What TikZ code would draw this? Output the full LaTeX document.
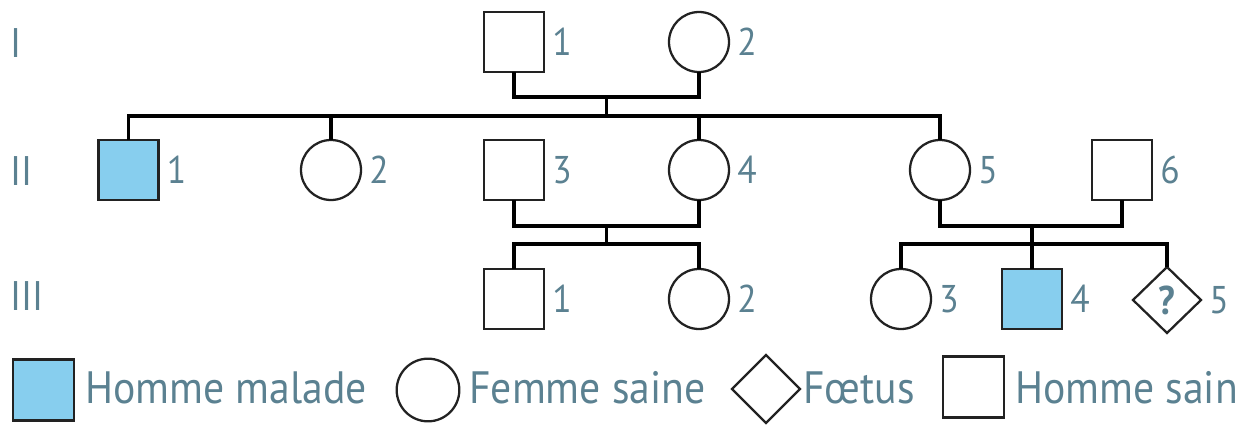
\documentclass[tikz,border=0pt]{standalone}
\usepackage{fontspec}
\setmainfont[FakeStretch=0.92]{PT Sans}
\usetikzlibrary{shapes.geometric}
\definecolor{labcol}{RGB}{91,129,145}
\definecolor{sick}{RGB}{135,206,238}
\definecolor{edge}{RGB}{34,34,34}
\tikzset{
  male/.style={draw=edge, rectangle, minimum size=45pt, inner sep=0pt, outer sep=0pt, line width=1.7pt, fill=white},
  female/.style={draw=edge, circle, minimum size=45pt, inner sep=0pt, outer sep=0pt, line width=1.7pt, fill=white},
  fetus/.style={draw=edge, diamond, minimum width=51pt, minimum height=49.5pt, inner sep=0pt, outer sep=0pt, line width=1.7pt, fill=white},
  ill/.style={fill=sick},
  ln/.style={line width=2.4pt, black},
  num/.style={text=labcol, font=\fontsize{29}{32}\selectfont, anchor=base west, inner sep=0pt},
  gen/.style={text=labcol, font=\fontsize{31}{34}\selectfont, anchor=base west, inner sep=0pt},
  leg/.style={text=labcol, font=\fontsize{34}{38}\selectfont, anchor=base west, inner sep=0pt}
}
\begin{document}
\begin{tikzpicture}[x=0.75pt, y=-0.75pt]
\useasboundingbox (0,0) rectangle (1253,425);

% generation labels
\node[gen] (gI)   at (10,57)  {I};
\node[gen] (gII)  at (10,185) {II};
\node[gen] (gIII) at (10,310) {III};

% generation I
\node[male]   (I1) at (514,42) {};
\node[female] (I2) at (699,42) {};

% generation II
\node[male, ill] (II1) at (128.5,170) {};
\node[female]    (II2) at (331,170) {};
\node[male]      (II3) at (514,170) {};
\node[female]    (II4) at (699,170) {};
\node[female]    (II5) at (940,170) {};
\node[male]      (II6) at (1122,170) {};

% generation III
\node[male]      (III1) at (514,299) {};
\node[female]    (III2) at (699,299) {};
\node[female]    (III3) at (901,299) {};
\node[male, ill] (III4) at (1032,299) {};
\node[fetus]     (III5) at (1167,300) {\textcolor{labcol}{\fontsize{30}{32}\selectfont\bfseries ?}};

% individual numbers
\foreach \n/\t in {I1/1, I2/2, II1/1, II2/2, II3/3, II4/4, II5/5, II6/6, III1/1, III2/2, III3/3, III4/4, III5/5}
  \node[num] (lab-\n) at ([xshift=6pt, yshift=-10pt]\n.east) {\t};

% family of I1 x I2
\coordinate (m1) at (606.5,97);
\coordinate (s1) at (606.5,116);
\draw[ln] (I1.south) |- (m1) -| (I2.south);
\draw[ln] (m1) -- (s1);
\draw[ln] (II1.north) |- (s1) -| (II5.north);
\draw[ln] (II2.north) -- (II2.north |- s1);
\draw[ln] (II4.north) -- (II4.north |- s1);

% family of II3 x II4
\coordinate (m2) at (606.5,226);
\coordinate (s2) at (606.5,244);
\draw[ln] (II3.south) |- (m2) -| (II4.south);
\draw[ln] (m2) -- (s2);
\draw[ln] (III1.north) |- (s2) -| (III2.north);

% family of II5 x II6
\coordinate (m3) at (1032,226);
\coordinate (s3) at (1032,244);
\draw[ln] (II5.south) |- (m3) -| (II6.south);
\draw[ln] (m3) -- (III4.north);
\draw[ln] (III3.north) |- (s3) -| (III5.north);

% legend
\node[male, ill, minimum size=45.75pt, line width=2pt] (k1) at (43.5,390) {};
\node[leg] (k1t) at (85,403) {Homme malade};
\node[female, minimum size=47pt] (k2) at (428,390) {};
\node[leg] (k2t) at (469,403) {Femme saine};
\node[fetus, minimum width=51pt, minimum height=51pt] (k3) at (766,389) {};
\node[leg] (k3t) at (803,403) {Fœtus};
\node[male, minimum size=45.75pt, line width=2pt] (k4) at (973.5,387) {};
\node[leg] (k4t) at (1015,403) {Homme sain};
\end{tikzpicture}
\end{document}
